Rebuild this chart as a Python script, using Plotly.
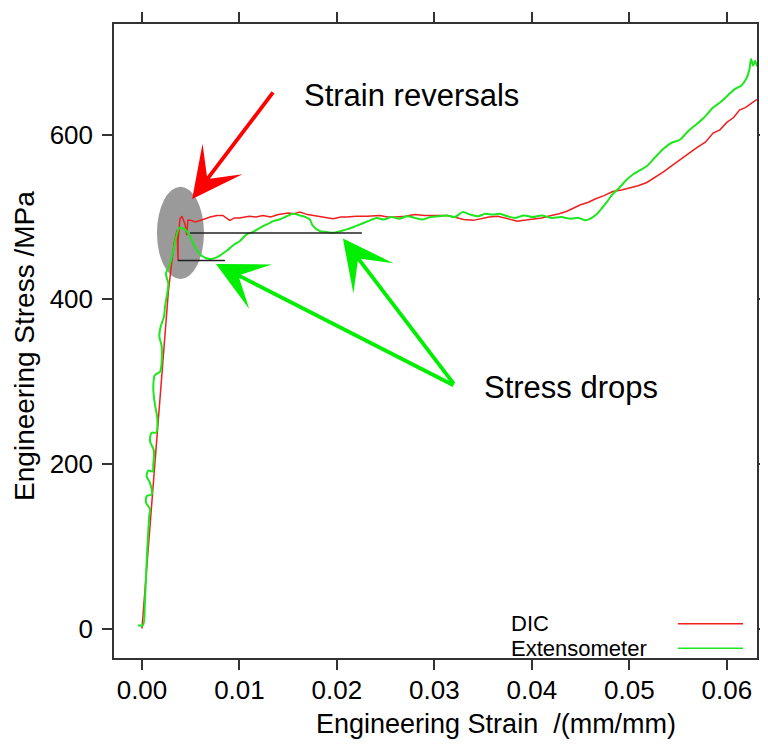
import plotly.graph_objects as go

# ---- data ----
dic_strain = [0.0, 0.0003, 0.0006, 0.0009, 0.0012, 0.0015, 0.0018, 0.0021, 0.0024, 0.0027,
              0.0030, 0.0033, 0.0036, 0.0037, 0.0037, 0.0039, 0.0041, 0.0044, 0.0046, 0.0047,
              0.0050, 0.0055, 0.0059, 0.0065, 0.0070, 0.0077, 0.0083, 0.0090, 0.0095, 0.0100,
              0.0110, 0.0117, 0.0124, 0.0132, 0.0140, 0.0150, 0.0156, 0.0162, 0.0170, 0.0176,
              0.0183, 0.0190, 0.0196, 0.0204, 0.0210, 0.0220, 0.0231, 0.0244, 0.0252, 0.0260,
              0.0270, 0.0280, 0.0290, 0.0302, 0.0313, 0.0320, 0.0330, 0.0340, 0.0347, 0.0356,
              0.0365, 0.0375, 0.0385, 0.0392, 0.0400, 0.0410, 0.0420, 0.0428, 0.0436, 0.0443,
              0.0450, 0.0458, 0.0465, 0.0474, 0.0483, 0.0492, 0.0500, 0.0509, 0.0518, 0.0526,
              0.0535, 0.0543, 0.0552, 0.0561, 0.0570, 0.0578, 0.0586, 0.0593, 0.0600, 0.0607,
              0.0613, 0.0619, 0.0625, 0.0631]
dic_stress = [0, 45, 92, 138, 185, 232, 278, 322, 365, 408,
              440, 468, 484, 447, 470, 498, 501, 492, 478, 496,
              496, 494, 496, 498, 500, 502, 502, 496, 499, 499,
              501, 500, 502, 500, 503, 505, 504, 506, 503, 502,
              501, 499, 498, 500, 500, 501, 501, 502, 500, 500,
              501, 503, 502, 502, 502, 500, 497, 496, 498, 500,
              501, 498, 495, 496, 497, 499, 502, 504, 507, 511,
              515, 518, 522, 526, 531, 533, 535, 538, 542, 548,
              555, 562, 570, 577, 585, 591, 602, 606, 615, 621,
              630, 633, 638, 643]

ext_strain = [-0.0004, 0.0001, 0.0003, 0.00048, 0.00075, 0.00082, 0.00041, 0.00048, 0.00099, 0.00082,
              0.00048, 0.00065, 0.0011, 0.00116, 0.00123, 0.00082, 0.00099, 0.00144, 0.00157, 0.00133,
              0.00116, 0.00133, 0.00185, 0.00202, 0.00178, 0.00192, 0.00226, 0.00236, 0.00253, 0.0027,
              0.00246, 0.00287, 0.00321, 0.00349, 0.00383, 0.00441, 0.00492, 0.00544, 0.00612, 0.00697,
              0.00766, 0.00869, 0.0094, 0.01005, 0.01074, 0.0114, 0.0121, 0.0128, 0.01347, 0.0141,
              0.01484, 0.0155, 0.0162, 0.0168, 0.01723, 0.0175, 0.01826, 0.0189, 0.01962, 0.021,
              0.0217, 0.02236, 0.0232, 0.02407, 0.0248, 0.0256, 0.0264, 0.0272, 0.0280, 0.0288,
              0.0296, 0.0304, 0.0313, 0.0321, 0.0329, 0.0337, 0.0345, 0.0352, 0.0360, 0.0367,
              0.0375, 0.0383, 0.0392, 0.0401, 0.0410, 0.0420, 0.0430, 0.0440, 0.0448, 0.0455,
              0.0460, 0.0466, 0.0472, 0.0478, 0.0483, 0.0490, 0.0497, 0.0504, 0.0511, 0.0518,
              0.0526, 0.0535, 0.0543, 0.0552, 0.0560, 0.0568, 0.0576, 0.0586, 0.0594, 0.0603,
              0.0609, 0.0615, 0.0620, 0.0623, 0.0625, 0.0627, 0.0629, 0.0631]
ext_stress = [4, 4, 33, 81, 137, 145, 153, 161, 163, 177,
              185, 192, 191, 200, 216, 228, 238, 238, 256, 272,
              292, 308, 312, 343, 355, 367, 379, 391, 403, 419,
              431, 443, 459, 475, 487, 485, 477, 463, 453, 449,
              451, 459, 466, 471, 479, 482, 487, 491, 495, 497,
              501, 504, 502, 500, 497, 490, 483, 482, 481, 485,
              488, 491, 495, 499, 497, 500, 498, 501, 499, 497,
              500, 501, 502, 500, 506, 503, 501, 504, 503, 504,
              501, 499, 502, 500, 502, 499, 500, 498, 499, 496,
              498, 503, 511, 520, 528, 536, 545, 552, 557, 562,
              572, 583, 590, 594, 604, 612, 620, 633, 640, 650,
              656, 660, 668, 678, 692, 684, 690, 683]

x_ticks = [0.00, 0.01, 0.02, 0.03, 0.04, 0.05, 0.06]
x_tick_labels = ["0.00", "0.01", "0.02", "0.03", "0.04", "0.05", "0.06"]
y_ticks = [0, 200, 400, 600]
y_tick_labels = ["0", "200", "400", "600"]

series_names = ["DIC", "Extensometer"]
series_colors = ["#f01e1e", "#1ee61e"]

FONT = "Liberation Sans, Arial, sans-serif"

# plot box in page pixels (page has an 8px body offset)
PL, PR, PT, PB = 114, 757, 12, 658
PW, PH = PR - PL, PB - PT


def px(xp):
    return (xp - PL) / PW


def py(yp):
    return (PB - yp) / PH


fig = go.Figure()
fig.add_trace(go.Scatter(x=dic_strain, y=dic_stress, mode="lines", name=series_names[0],
                         line=dict(color=series_colors[0], width=1.5), showlegend=False))
fig.add_trace(go.Scatter(x=ext_strain, y=ext_stress, mode="lines", name=series_names[1],
                         line=dict(color=series_colors[1], width=2, shape="spline", smoothing=0.8),
                         showlegend=False))

# grey ellipse (below traces)
fig.add_shape(type="circle", xref="x", yref="y", x0=0.00154, x1=0.00636, y0=424.6, y1=536.7,
              fillcolor="#9a9a9a", line=dict(width=0), layer="below")
# black stress-drop lines
fig.add_shape(type="line", xref="x", yref="y", x0=0.00492, x1=0.02256, y0=480.6, y1=480.6,
              line=dict(color="#222222", width=1.5))
fig.add_shape(type="line", xref="x", yref="y", x0=0.00369, x1=0.00851, y0=447.2, y1=447.2,
              line=dict(color="#222222", width=1.5))

annotations = []
# arrows
arrow_style = dict(text="", showarrow=True, arrowhead=3, arrowsize=2.2, arrowwidth=3.8)
annotations.append(dict(x=0.00515, y=522, xref="x", yref="y", ax=82, ay=-108,
                        arrowcolor="#ff0000", **arrow_style))
annotations.append(dict(x=0.00759, y=443, xref="x", yref="y", ax=239, ay=122,
                        arrowcolor="#00ee00", **arrow_style))
annotations.append(dict(x=0.02062, y=474, xref="x", yref="y", ax=112, ay=147,
                        arrowcolor="#00ee00", **arrow_style))
# texts
annotations.append(dict(x=px(302), y=py(85), xref="paper", yref="paper", text="Strain reversals",
                        showarrow=False, xanchor="left", yanchor="middle",
                        font=dict(family=FONT, size=31, color="black")))
annotations.append(dict(x=px(482), y=py(382), xref="paper", yref="paper",
                        text="Stress drops", showarrow=False, xanchor="left", yanchor="middle",
                        font=dict(family=FONT, size=31, color="black")))
# axis titles
annotations.append(dict(x=px(496), y=py(725), xref="paper", yref="paper",
                        text="Engineering Strain  /(mm/mm)", showarrow=False,
                        xanchor="center", yanchor="middle",
                        font=dict(family=FONT, size=27, color="black")))
annotations.append(dict(x=px(25), y=py(340), xref="paper", yref="paper",
                        text="Engineering Stress /MPa", showarrow=False, textangle=-90,
                        xanchor="center", yanchor="middle",
                        font=dict(family=FONT, size=28, color="black")))
# legend (text left, line right)
leg_y = [623, 648]
for name, col, ly in zip(series_names, series_colors, leg_y):
    annotations.append(dict(x=px(509), y=py(ly), xref="paper", yref="paper", text=name,
                            showarrow=False, xanchor="left", yanchor="middle",
                            font=dict(family=FONT, size=22, color="black")))
    fig.add_shape(type="line", xref="paper", yref="paper", x0=px(678), x1=px(743),
                  y0=py(ly), y1=py(ly), line=dict(color=col, width=1.5))

fig.update_layout(
    width=768, height=751,
    margin=dict(l=PL - 8, r=768 + 8 - PR, t=PT - 8, b=751 + 8 - PB),
    paper_bgcolor="white", plot_bgcolor="white",
    font=dict(family=FONT, size=25, color="black"),
    annotations=annotations,
    showlegend=False,
)
fig.update_xaxes(range=[-0.00287, 0.0631], tickvals=x_ticks, ticktext=x_tick_labels,
                 showline=True, linecolor="#333333", linewidth=1.5, mirror="allticks",
                 ticks="outside", ticklen=10, tickwidth=1.5, tickcolor="#333333",
                 showgrid=False, zeroline=False, ticklabelstandoff=-2,
                 tickfont=dict(family=FONT, size=26, color="black"))
fig.update_yaxes(range=[-35.8, 734.6], tickvals=y_ticks, ticktext=y_tick_labels,
                 showline=True, linecolor="#333333", linewidth=1.5, mirror="allticks",
                 ticks="outside", ticklen=10, tickwidth=1.5, tickcolor="#333333",
                 showgrid=False, zeroline=False, ticklabelstandoff=4,
                 tickfont=dict(family=FONT, size=26, color="black"))

fig.write_html("out.html")
